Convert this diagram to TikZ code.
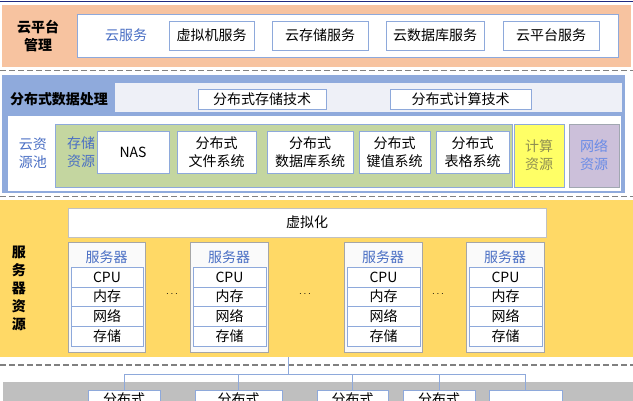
\documentclass[tikz,border=0pt]{standalone}
\usepackage{fontspec}
\setmainfont{Noto Sans CJK SC}
\definecolor{navy}{HTML}{1F2A80}
\definecolor{orangec}{HTML}{F7C3A0}
\definecolor{bluec}{HTML}{8FAADC}
\definecolor{bandc}{HTML}{EEF0F7}
\definecolor{greenc}{HTML}{C4D6A0}
\definecolor{yelbox}{HTML}{FFFF66}
\definecolor{lavc}{HTML}{CCC0DA}
\definecolor{yelsec}{HTML}{FFD966}
\definecolor{greysec}{HTML}{BFBFBF}
\definecolor{bbord}{HTML}{8EA9DB}
\definecolor{gbord}{HTML}{A6A6A6}
\definecolor{bluetxt}{HTML}{4A6FC4}
\definecolor{nettxt}{HTML}{6B8CE6}
\definecolor{comptxt}{HTML}{8E8E52}
\definecolor{dashc}{HTML}{808080}
\newcommand\fs{\fontsize{14}{18}\selectfont}
\newcommand\mybox[7]{\node[#6, anchor=north west, minimum width={#4-#2}, minimum height={#5-#3}] (#1) at (#2,#3) {#7};}
\tikzset{
  sec/.style={draw=none, inner sep=0pt, outer sep=0pt},
  wbox/.style={draw=bbord, fill=white, line width=0.9pt, inner sep=0pt, outer sep=0pt, font=\fs, align=center},
  lbl/.style={inner sep=0pt, font=\fs, align=center},
  blbl/.style={inner sep=0pt, font=\fs\bfseries, align=center},
  dline/.style={draw=dashc, line width=1.2pt, dash pattern=on 6pt off 3pt},
  conn/.style={draw=bbord, line width=0.9pt},
}
\begin{document}
\begin{tikzpicture}[x=1pt,y=-1pt]
\useasboundingbox (0,0) rectangle (633,400);
\clip (0,0) rectangle (633,400);
\fill[white] (0,0) rectangle (633,400);
% top line
\coordinate (tl) at (0,1.5);
\coordinate (tr) at (633,1.5);
\draw[navy, line width=1.6pt] (tl) -- (tr);
% ---------- cloud platform management ----------
\mybox{orange}{2}{5}{631}{67}{sec, fill=orangec}{}
\node[blbl] (mgmt) at (38,36) {云平台\\管理};
\mybox{svcarea}{77}{14}{618}{57}{wbox}{}
\node[lbl, text=bluetxt] (cloudsvc) at (126,35) {云服务};
\mybox{vm}{169}{21}{254}{50}{wbox}{虚拟机服务}
\mybox{cs}{272}{21}{368}{50}{wbox}{云存储服务}
\mybox{cdb}{386}{21}{484}{50}{wbox}{云数据库服务}
\mybox{cp}{503}{21}{599}{50}{wbox}{云平台服务}
% dashed
\coordinate (d1l) at (0,70.5); \coordinate (d1r) at (633,70.5);
\draw[dline] (d1l) -- (d1r);
% ---------- distributed data processing ----------
\mybox{bluesec}{2}{75}{625}{193}{sec, fill=bluec}{}
\node[blbl] (ddp) at (59,99) {分布式数据处理};
\mybox{band}{115}{83}{622}{112}{sec, fill=bandc}{}
\mybox{dst}{198}{89}{326}{109}{wbox}{分布式存储技术}
\mybox{dct}{390}{89}{531}{109}{wbox}{分布式计算技术}
\mybox{pool}{8}{116}{621}{191}{sec, fill=white}{}
\node[lbl, text=bluetxt] (pooltxt) at (33,153) {云资\\源池};
\mybox{green}{55}{124}{512}{187}{wbox, fill=greenc}{}
\node[lbl, text=bluetxt] (stres) at (81,152) {存储\\资源};
\mybox{nas}{97}{131}{169}{173}{wbox}{NAS}
\mybox{dfs}{177}{131}{256}{173}{wbox}{分布式\\文件系统}
\mybox{ddb}{267}{131}{353}{173}{wbox}{分布式\\数据库系统}
\mybox{dkv}{359}{131}{430}{173}{wbox}{分布式\\键值系统}
\mybox{dtb}{436}{131}{509}{173}{wbox}{分布式\\表格系统}
\mybox{comp}{514}{124}{564}{187}{wbox, fill=yelbox, text=comptxt}{计算\\资源}
\mybox{netr}{569}{124}{619}{187}{wbox, draw=gbord!80!bbord, fill=lavc, text=nettxt}{网络\\资源}
% dashed
\coordinate (d2l) at (0,196.5); \coordinate (d2r) at (633,196.5);
\draw[dline] (d2l) -- (d2r);
% ---------- server resources ----------
\mybox{yelsec}{0}{200}{633}{357}{sec, fill=yelsec}{}
\node[blbl] (srvres) at (19,288) {服\\务\\器\\资\\源};
\mybox{virt}{68}{208}{546}{237}{wbox, draw=gbord!70}{虚拟化}
\foreach \i/\xa/\xb in {1/68/145, 2/190/268, 3/344/422, 4/466/544}{
  \pgfmathsetmacro\xc{\xa+3}
  \pgfmathsetmacro\xd{\xb-2}
  \pgfmathsetmacro\xm{(\xa+\xb)/2}
  \mybox{s\i}{\xa}{242}{\xb}{352}{wbox, draw=gbord, fill=white!96!gray}{}
  \node[lbl, text=bluetxt] (s\i t) at (\xm,257) {服务器};
  \mybox{s\i cpu}{\xc}{267}{\xd}{287}{wbox}{CPU}
  \mybox{s\i mem}{\xc}{287}{\xd}{306}{wbox}{内存}
  \mybox{s\i net}{\xc}{306}{\xd}{326}{wbox}{网络}
  \mybox{s\i sto}{\xc}{326}{\xd}{346}{wbox}{存储}
}
\node[inner sep=0pt, font=\fontsize{10}{11}\selectfont] (dots1) at (172,294) {$\cdots$};
\node[inner sep=0pt, font=\fontsize{10}{11}\selectfont] (dots2) at (305,294) {$\cdots$};
\node[inner sep=0pt, font=\fontsize{10}{11}\selectfont] (dots3) at (438,294) {$\cdots$};
% dashed
\coordinate (d3l) at (0,365); \coordinate (d3r) at (633,365);
\draw[dline] (d3l) -- (d3r);
% ---------- bottom layer ----------
\mybox{greysec}{3}{382}{633}{430}{sec, fill=greysec}{}
\mybox{b1}{88}{390}{160}{425}{wbox}{}
\mybox{b2}{195}{390}{282}{425}{wbox}{}
\mybox{b3}{317}{390}{388}{425}{wbox}{}
\mybox{b4}{403}{390}{475}{425}{wbox}{}
\mybox{b5}{489}{390}{562}{425}{wbox}{}
\node[lbl, anchor=north] (b1t) at (124,393) {分布式};
\node[lbl, anchor=north] (b2t) at (238.5,393) {分布式};
\node[lbl, anchor=north] (b3t) at (352.5,393) {分布式};
\node[lbl, anchor=north] (b4t) at (439,393) {分布式};
\coordinate (src) at (288,357);
\coordinate (bus) at (288,374);
\draw[conn] (src) -- (bus);
\draw[conn] (bus) -| (b1.north);
\draw[conn] (bus) -| (b2.north);
\draw[conn] (bus) -| (b3.north);
\draw[conn] (bus) -| (b4.north);
\draw[conn] (bus) -| (b5.north);
\end{tikzpicture}
\end{document}
